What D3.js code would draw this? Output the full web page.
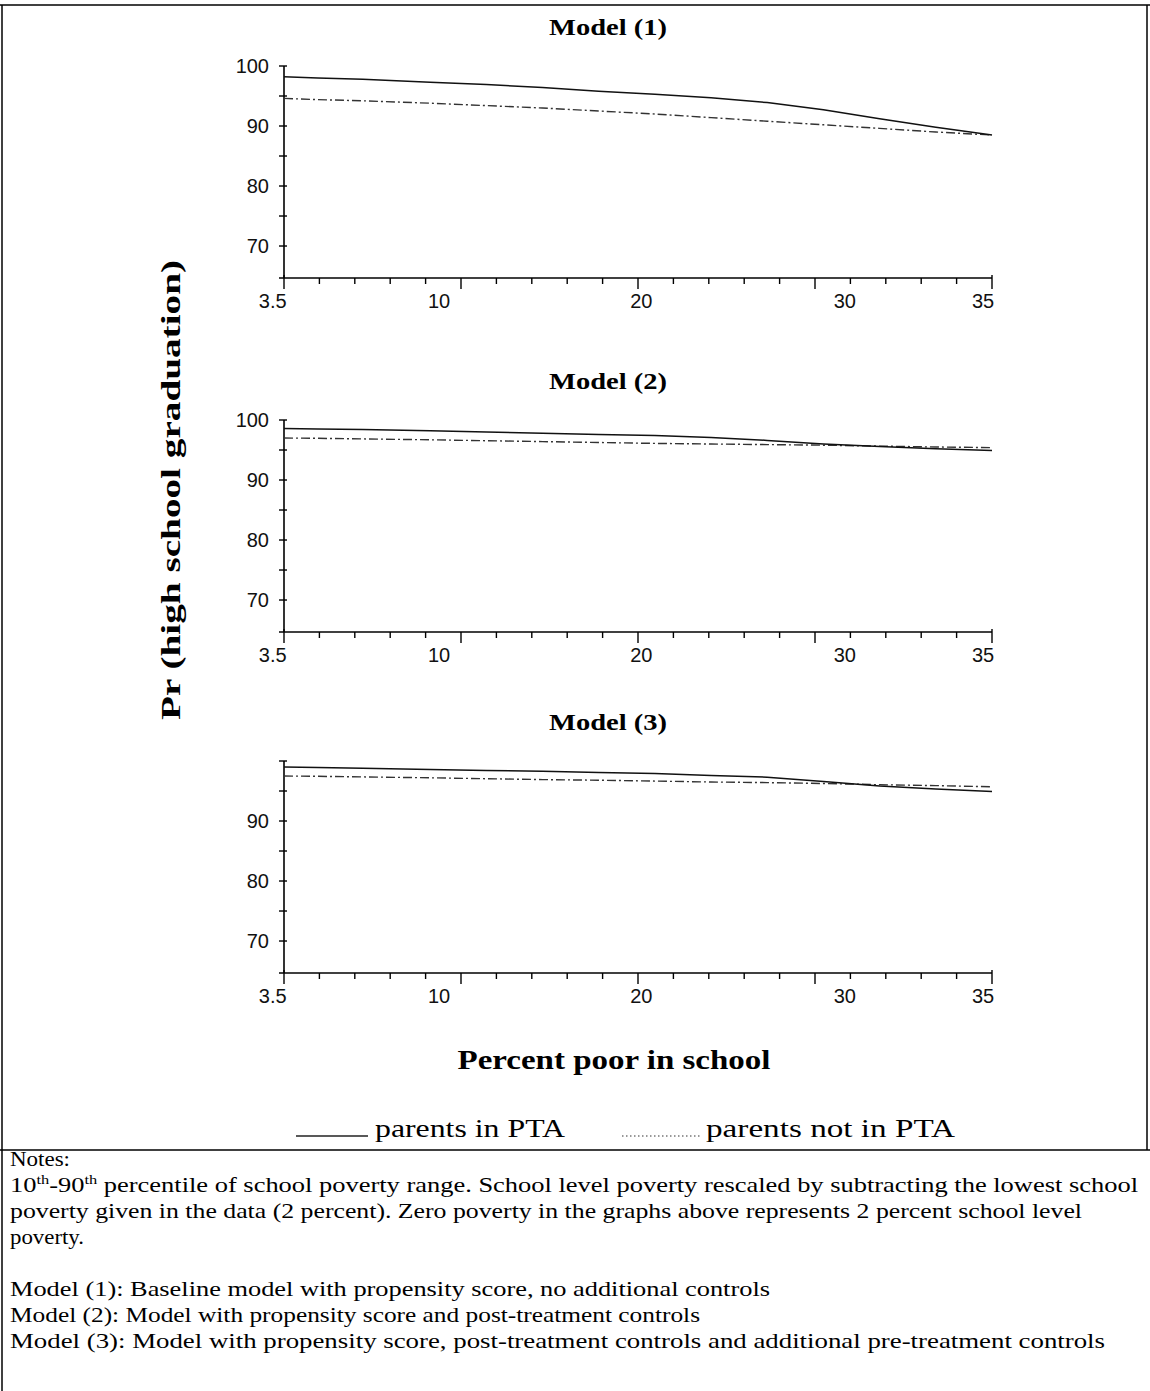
<!DOCTYPE html>
<html><head><meta charset="utf-8">
<script src="https://cdn.jsdelivr.net/npm/d3@7"></script>
<style>body{margin:0;background:#fff} svg{display:block}</style>
</head><body><div id="chart"></div>
<script>
// ---- data ----
const xValues = [3.5, 5, 7, 10, 12.5, 15, 17.5, 20, 22.5, 25, 27.5, 30, 32.5, 35];
const model1InPTA    = [98.2, 98.0, 97.8, 97.3, 96.9, 96.4, 95.8, 95.3, 94.7, 93.9, 92.7, 91.2, 89.8, 88.5];
const model1NotInPTA = [94.6, 94.4, 94.2, 93.8, 93.4, 93.0, 92.5, 92.0, 91.4, 90.8, 90.2, 89.6, 89.0, 88.5];
const model2InPTA    = [98.6, 98.5, 98.4, 98.2, 98.0, 97.8, 97.6, 97.4, 97.1, 96.6, 96.0, 95.6, 95.2, 94.9];
const model2NotInPTA = [97.0, 96.95, 96.85, 96.7, 96.55, 96.4, 96.25, 96.1, 96.0, 95.9, 95.8, 95.65, 95.5, 95.4];
const model3InPTA    = [99.0, 98.9, 98.8, 98.6, 98.4, 98.3, 98.1, 97.9, 97.6, 97.3, 96.6, 95.85, 95.35, 94.9];
const model3NotInPTA = [97.5, 97.45, 97.35, 97.2, 97.05, 96.9, 96.8, 96.65, 96.5, 96.4, 96.25, 96.05, 95.9, 95.7];

const panelTitles = ["Model (1)", "Model (2)", "Model (3)"];
const yDomain = [64.67, 100];
const xDomain = [3.5, 35];
const yTickValues = [70, 75, 80, 85, 90, 95, 100];
const yTickLabelValues = [[70, 80, 90, 100], [70, 80, 90, 100], [70, 80, 90]];
const xMinorStep = 1.575;          // 20 minor intervals between 3.5 and 35
const xTickLabels = ["3.5", "10", "20", "30", "35"];
const xTickLabelAt = [3.0, 10.4, 19.4, 28.45, 34.6];  // where the reference prints them
const yAxisTitle = "Pr (high school graduation)";
const xAxisTitle = "Percent poor in school";
const legendLabels = ["parents in PTA", "parents not in PTA"];
const noteLines = [
  "Notes:",
  "SUP",
  "poverty given in the data (2 percent). Zero poverty in the graphs above represents 2 percent school level",
  "poverty.",
  "",
  "Model (1): Baseline model with propensity score, no additional controls",
  "Model (2): Model with propensity score and  post-treatment controls",
  "Model (3): Model with propensity score, post-treatment controls and additional pre-treatment controls"
];

// ---- layout ----
const W = 1150, H = 1391;
const svg = d3.select("#chart").append("svg").attr("width", W).attr("height", H);
const axisX = 284, axisRight = 992;
const panelTops = [66, 420, 761];
const panelH = 212;
const series = [[model1InPTA, model1NotInPTA], [model2InPTA, model2NotInPTA], [model3InPTA, model3NotInPTA]];

const x = d3.scaleLinear().domain(xDomain).range([axisX, axisRight]);
const xTicks = d3.range(0, 21).map(i => xDomain[0] + i * xMinorStep);

const sansFont = "'Liberation Sans', Arial, sans-serif";
const serifFont = "'Liberation Serif', 'Times New Roman', serif";

panelTops.forEach((top, p) => {
  const y = d3.scaleLinear().domain(yDomain).range([top + panelH, top]);
  const g = svg.append("g");
  g.append("text").attr("x", 608).attr("y", top - 31)
    .attr("text-anchor", "middle").attr("font-family", serifFont)
    .attr("font-weight", "bold").attr("font-size", 23)
    .attr("textLength", 118).attr("lengthAdjust", "spacingAndGlyphs")
    .text(panelTitles[p]);
  g.append("line").attr("x1", axisX).attr("x2", axisX)
    .attr("y1", y(100)).attr("y2", y(yDomain[0]))
    .attr("stroke", "#000").attr("stroke-width", 1.6);
  g.selectAll(".yt").data(yTickValues).enter().append("line")
    .attr("x1", axisX - 5).attr("x2", axisX + 3)
    .attr("y1", d => y(d)).attr("y2", d => y(d))
    .attr("stroke", "#000").attr("stroke-width", 1.4);
  g.selectAll(".yl").data(yTickLabelValues[p]).enter().append("text")
    .attr("x", axisX - 15).attr("y", d => y(d) + 7)
    .attr("text-anchor", "end").attr("font-family", sansFont)
    .attr("font-size", 20).attr("fill", "#111")
    .text(d => d);
  const xy = y(yDomain[0]);
  g.append("line").attr("x1", axisX - 5).attr("x2", axisRight)
    .attr("y1", xy).attr("y2", xy)
    .attr("stroke", "#000").attr("stroke-width", 1.6);
  g.selectAll(".xt").data(xTicks).enter().append("line")
    .attr("x1", d => x(d)).attr("x2", d => x(d))
    .attr("y1", (d, i) => (i === 0 || i === 20) ? xy - 3 : xy)
    .attr("y2", (d, i) => xy + (i % 5 === 0 ? 11 : 6))
    .attr("stroke", "#000").attr("stroke-width", 1.4);
  g.selectAll(".xl").data(xTickLabels).enter().append("text")
    .attr("x", (d, i) => x(xTickLabelAt[i])).attr("y", xy + 30)
    .attr("text-anchor", "middle").attr("font-family", sansFont)
    .attr("font-size", 20).attr("fill", "#111")
    .text(d => d);
  const line = d3.line().x((d, i) => x(xValues[i])).y(d => y(d));
  g.append("path").datum(series[p][1]).attr("d", line)
    .attr("fill", "none").attr("stroke", "#333").attr("stroke-width", 1.4)
    .attr("stroke-dasharray", "9,3,2,3");
  g.append("path").datum(series[p][0]).attr("d", line)
    .attr("fill", "none").attr("stroke", "#111").attr("stroke-width", 1.5);
});

svg.append("text").attr("transform", "translate(180,490) rotate(-90)")
  .attr("text-anchor", "middle").attr("font-family", serifFont)
  .attr("font-weight", "bold").attr("font-size", 27)
  .attr("textLength", 460).attr("lengthAdjust", "spacingAndGlyphs")
  .text(yAxisTitle);
svg.append("text").attr("x", 614).attr("y", 1069)
  .attr("text-anchor", "middle").attr("font-family", serifFont)
  .attr("font-weight", "bold").attr("font-size", 27)
  .attr("textLength", 313).attr("lengthAdjust", "spacingAndGlyphs")
  .text(xAxisTitle);

svg.append("line").attr("x1", 296).attr("x2", 368).attr("y1", 1136).attr("y2", 1136)
  .attr("stroke", "#222").attr("stroke-width", 1.6);
svg.append("text").attr("x", 375).attr("y", 1137).attr("font-family", serifFont)
  .attr("font-size", 25).attr("textLength", 190).attr("lengthAdjust", "spacingAndGlyphs")
  .text(legendLabels[0]);
svg.append("line").attr("x1", 622).attr("x2", 700).attr("y1", 1136).attr("y2", 1136)
  .attr("stroke", "#777").attr("stroke-width", 1.4).attr("stroke-dasharray", "1.5,2.5");
svg.append("text").attr("x", 706).attr("y", 1137).attr("font-family", serifFont)
  .attr("font-size", 25).attr("textLength", 249).attr("lengthAdjust", "spacingAndGlyphs")
  .text(legendLabels[1]);

svg.append("line").attr("x1", 0).attr("x2", W).attr("y1", 5).attr("y2", 5).attr("stroke", "#000").attr("stroke-width", 1.5);
svg.append("line").attr("x1", 0).attr("x2", W).attr("y1", 1150).attr("y2", 1150).attr("stroke", "#000").attr("stroke-width", 1.5);
svg.append("line").attr("x1", 2).attr("x2", 2).attr("y1", 5).attr("y2", H).attr("stroke", "#000").attr("stroke-width", 1.5);
svg.append("line").attr("x1", 1147).attr("x2", 1147).attr("y1", 5).attr("y2", 1150).attr("stroke", "#000").attr("stroke-width", 1.5);

const noteBase = [1166, 1192, 1218, 1244, 0, 1296, 1322, 1348];
const noteWidths = [60, 1128, 1072, 74, 0, 760, 690, 1095];
noteLines.forEach((t, i) => {
  if (i === 4) return;
  const tx = svg.append("text").attr("x", 10).attr("y", noteBase[i])
    .attr("font-family", serifFont).attr("font-size", 21).attr("fill", "#000")
    .attr("textLength", noteWidths[i]).attr("lengthAdjust", "spacingAndGlyphs");
  if (t === "SUP") {
    tx.append("tspan").text("10");
    tx.append("tspan").attr("font-size", 13).attr("dy", -8).text("th");
    tx.append("tspan").attr("dy", 8).text("-90");
    tx.append("tspan").attr("font-size", 13).attr("dy", -8).text("th");
    tx.append("tspan").attr("dy", 8).text(" percentile of school poverty range. School level poverty rescaled by subtracting the lowest school");
  } else {
    tx.text(t);
  }
});
</script>
</body></html>
